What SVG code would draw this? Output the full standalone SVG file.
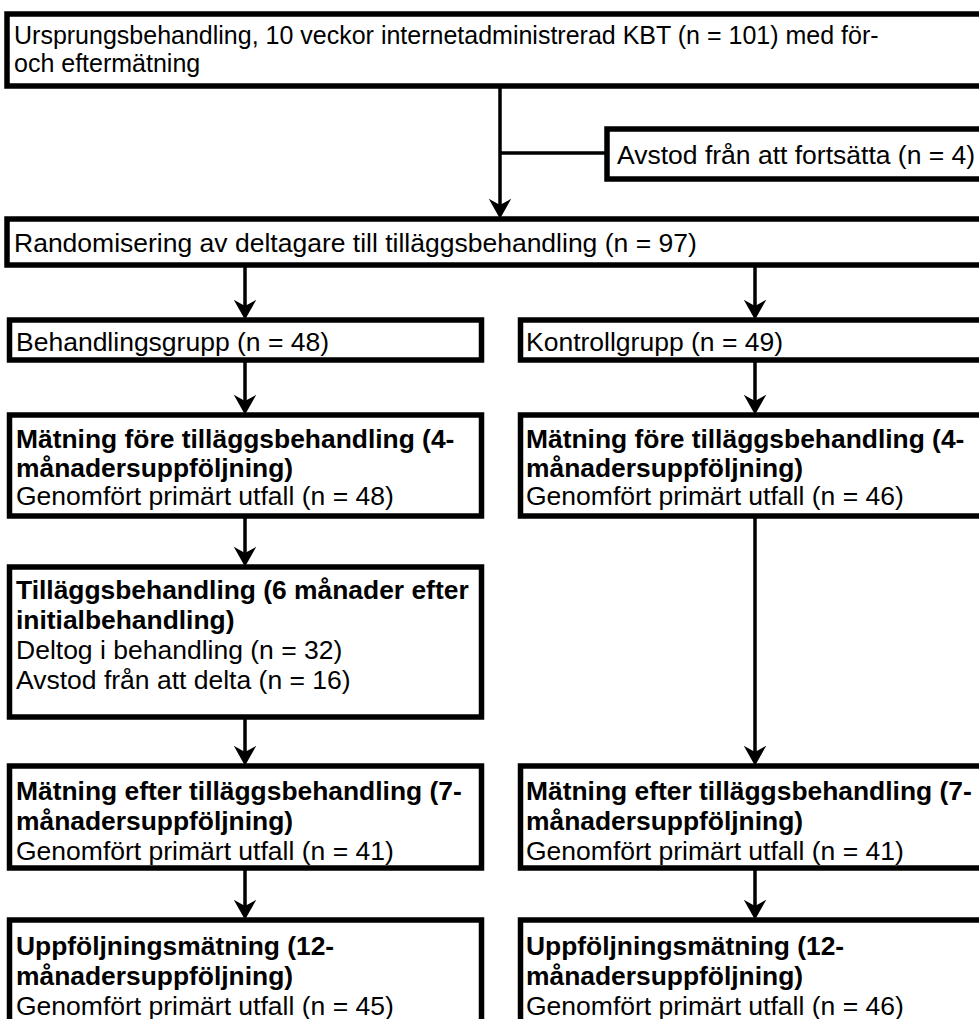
<svg xmlns="http://www.w3.org/2000/svg" width="979" height="1019" viewBox="0 0 979 1019">
<style>
.box{fill:#fff;stroke:#000;stroke-width:5.5}
.t{font-family:"Liberation Sans",Arial,sans-serif;font-size:26.5px;fill:#000}
.top{font-size:25px}
.b{font-weight:bold;font-size:26.4px}
.c{fill:none;stroke:#000;stroke-width:3.5}
</style>
<defs>
<marker id="ah" markerUnits="userSpaceOnUse" markerWidth="30" markerHeight="30" viewBox="-12 -12 24 24" refX="0" refY="0" orient="auto">
<path d="M7,0 L-9,-9 L-4,0 L-9,9 Z" fill="#000"/>
</marker>
</defs>
<rect width="979" height="1019" fill="#fff"/>
<g id="connectors">
<line class="c" x1="500" y1="88" x2="500" y2="210" marker-end="url(#ah)"/>
<line class="c" x1="500" y1="153" x2="606" y2="153"/>
<line class="c" x1="245" y1="267" x2="245" y2="311" marker-end="url(#ah)"/>
<line class="c" x1="755" y1="267" x2="755" y2="311" marker-end="url(#ah)"/>
<line class="c" x1="245" y1="362" x2="245" y2="406" marker-end="url(#ah)"/>
<line class="c" x1="755" y1="362" x2="755" y2="406" marker-end="url(#ah)"/>
<line class="c" x1="245" y1="518" x2="245" y2="558" marker-end="url(#ah)"/>
<line class="c" x1="755" y1="518" x2="755" y2="757" marker-end="url(#ah)"/>
<line class="c" x1="245" y1="719" x2="245" y2="757" marker-end="url(#ah)"/>
<line class="c" x1="245" y1="870" x2="245" y2="911" marker-end="url(#ah)"/>
<line class="c" x1="755" y1="870" x2="755" y2="911" marker-end="url(#ah)"/>
</g>
<g id="n1">
<rect class="box" x="7" y="14" width="1000" height="72"/>
<text class="t top" x="14" y="44">Ursprungsbehandling, 10 veckor internetadministrerad KBT (n = 101) med för-</text>
<text class="t top" x="14" y="72">och eftermätning</text>
</g>
<g id="n2">
<rect class="box" x="607" y="129" width="400" height="50"/>
<text class="t" x="617" y="164">Avstod från att fortsätta (n = 4)</text>
</g>
<g id="n3">
<rect class="box" x="7" y="219" width="1000" height="46"/>
<text class="t" x="14" y="252">Randomisering av deltagare till tilläggsbehandling (n = 97)</text>
</g>
<g id="n4">
<rect class="box" x="9.5" y="320" width="472" height="40"/>
<text class="t" x="16" y="351">Behandlingsgrupp (n = 48)</text>
</g>
<g id="n5">
<rect class="box" x="520.5" y="320" width="480" height="40"/>
<text class="t" x="526" y="351">Kontrollgrupp (n = 49)</text>
</g>
<g id="n6">
<rect class="box" x="9.5" y="415" width="472" height="101"/>
<text class="t b" x="16" y="448">Mätning före tilläggsbehandling (4-</text>
<text class="t b" x="16" y="477">månadersuppföljning)</text>
<text class="t" x="16" y="505">Genomfört primärt utfall (n = 48)</text>
</g>
<g id="n7">
<rect class="box" x="520.5" y="415" width="480" height="101"/>
<text class="t b" x="526" y="448">Mätning före tilläggsbehandling (4-</text>
<text class="t b" x="526" y="477">månadersuppföljning)</text>
<text class="t" x="526" y="505">Genomfört primärt utfall (n = 46)</text>
</g>
<g id="n8">
<rect class="box" x="9.5" y="567" width="472" height="150"/>
<text class="t b" x="16" y="599">Tilläggsbehandling (6 månader efter</text>
<text class="t b" x="16" y="629">initialbehandling)</text>
<text class="t" x="16" y="659">Deltog i behandling (n = 32)</text>
<text class="t" x="16" y="689">Avstod från att delta (n = 16)</text>
</g>
<g id="n9">
<rect class="box" x="9.5" y="766" width="472" height="102"/>
<text class="t b" x="16" y="800">Mätning efter tilläggsbehandling (7-</text>
<text class="t b" x="16" y="830">månadersuppföljning)</text>
<text class="t" x="16" y="860">Genomfört primärt utfall (n = 41)</text>
</g>
<g id="n10">
<rect class="box" x="520.5" y="766" width="480" height="102"/>
<text class="t b" x="526" y="800">Mätning efter tilläggsbehandling (7-</text>
<text class="t b" x="526" y="830">månadersuppföljning)</text>
<text class="t" x="526" y="860">Genomfört primärt utfall (n = 41)</text>
</g>
<g id="n11">
<rect class="box" x="9.5" y="920" width="472" height="200"/>
<text class="t b" x="16" y="955">Uppföljningsmätning (12-</text>
<text class="t b" x="16" y="985">månadersuppföljning)</text>
<text class="t" x="16" y="1015">Genomfört primärt utfall (n = 45)</text>
</g>
<g id="n12">
<rect class="box" x="520.5" y="920" width="480" height="200"/>
<text class="t b" x="526" y="955">Uppföljningsmätning (12-</text>
<text class="t b" x="526" y="985">månadersuppföljning)</text>
<text class="t" x="526" y="1015">Genomfört primärt utfall (n = 46)</text>
</g>
</svg>
